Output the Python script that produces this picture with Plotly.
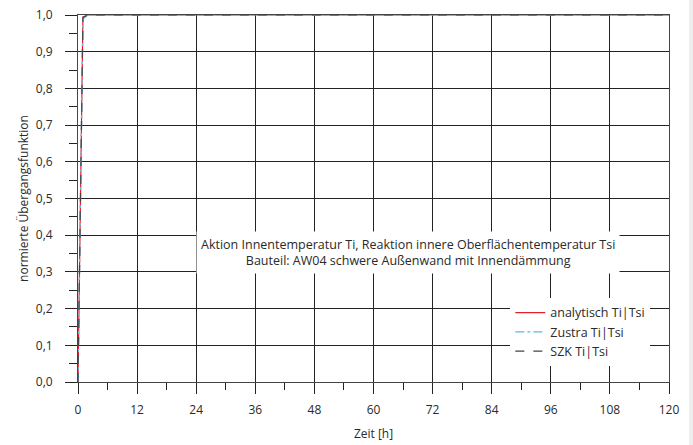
import plotly.graph_objects as go

# Zeit [h]
t_analytisch = [0, 0.25, 0.5, 0.75, 1, 2, 6, 12, 24, 48, 72, 96, 120]
y_analytisch = [0.0, 0.27, 0.52, 0.76, 0.995, 1.0, 1.0, 1.0, 1.0, 1.0, 1.0, 1.0, 1.0]

t_zustra = [0, 0.25, 0.5, 0.75, 1, 2, 6, 12, 24, 48, 72, 96, 120]
y_zustra = [0.0, 0.25, 0.50, 0.74, 0.99, 1.0, 1.0, 1.0, 1.0, 1.0, 1.0, 1.0, 1.0]

t_szk = [0, 0.25, 0.5, 0.75, 1, 2, 6, 12, 24, 48, 72, 96, 120]
y_szk = [0.0, 0.26, 0.51, 0.75, 0.993, 1.0, 1.0, 1.0, 1.0, 1.0, 1.0, 1.0, 1.0]

x_ticks = [0, 12, 24, 36, 48, 60, 72, 84, 96, 108, 120]
y_ticks = [0.0, 0.1, 0.2, 0.3, 0.4, 0.5, 0.6, 0.7, 0.8, 0.9, 1.0]

names = ["analytisch Ti|Tsi", "Zustra Ti|Tsi", "SZK Ti|Tsi"]
annotation_text = ("Aktion Innentemperatur Ti, Reaktion innere Oberflächentemperatur Tsi<br>"
                   "Bauteil: AW04 schwere Außenwand mit Innendämmung")

FONT = "Open Sans, Noto Sans, sans-serif"
TXT = "#2a2a2a"

fig = go.Figure()
fig.add_trace(go.Scatter(x=t_analytisch, y=y_analytisch, mode="lines", name=names[0],
                         line=dict(color="#e0202e", width=1.2)))
fig.add_trace(go.Scatter(x=t_zustra, y=y_zustra, mode="lines", name=names[1],
                         line=dict(color="#4cc0f0", width=1.4, dash="dashdot")))
fig.add_trace(go.Scatter(x=t_szk, y=y_szk, mode="lines", name=names[2],
                         line=dict(color="#444444", width=1.2, dash="dash")))

fig.add_annotation(x=0.558, y=0.353, xref="paper", yref="paper", text=annotation_text,
                   showarrow=False, bgcolor="white", align="center",
                   font=dict(size=12.5, color=TXT, family=FONT), borderpad=4)

fig.add_shape(type="rect", xref="paper", yref="paper", x0=1.034, x1=1.06, y0=-0.3, y1=1.1,
              fillcolor="#eeeeee", line=dict(width=0), layer="below")

fig.update_layout(
    width=693, height=445,
    margin=dict(l=78, r=24, t=15, b=63),
    paper_bgcolor="white", plot_bgcolor="white",
    separators=",.",
    font=dict(family=FONT, size=12, color=TXT),
    showlegend=True,
    legend=dict(x=0.7315, y=0.229, xanchor="left", yanchor="top",
                bgcolor="white", borderwidth=0, font=dict(size=12.5, color=TXT),
                tracegroupgap=0),
)

fig.update_xaxes(range=[0, 120], tickvals=x_ticks, ticks="outside", ticklen=11,
                 tickcolor="#222", showgrid=True, gridcolor="#222", gridwidth=1,
                 showline=True, linecolor="#444", linewidth=1, mirror=True,
                 zeroline=False, automargin=False, ticklabelstandoff=6,
                 minor=dict(dtick=6, ticks="outside", ticklen=7, tickcolor="#222", showgrid=False),
                 title=dict(text="Zeit [h]", font=dict(size=12), standoff=12),
                 tickfont=dict(size=12))
fig.update_yaxes(range=[0, 1], tickvals=y_ticks, tickformat=".1f", ticks="outside", ticklen=12,
                 tickcolor="#222", showgrid=True, gridcolor="#222", gridwidth=1,
                 showline=True, linecolor="#444", linewidth=1, mirror=True,
                 zeroline=False, automargin=False, ticklabelstandoff=10,
                 minor=dict(dtick=0.05, ticks="outside", ticklen=8, tickcolor="#222", showgrid=False),
                 title=dict(text="normierte Übergangsfunktion", font=dict(size=12), standoff=4),
                 tickfont=dict(size=12))

fig.write_html("out.html", config={"displayModeBar": False},
               post_script="document.body.style.margin='0';document.body.style.padding='0';")
